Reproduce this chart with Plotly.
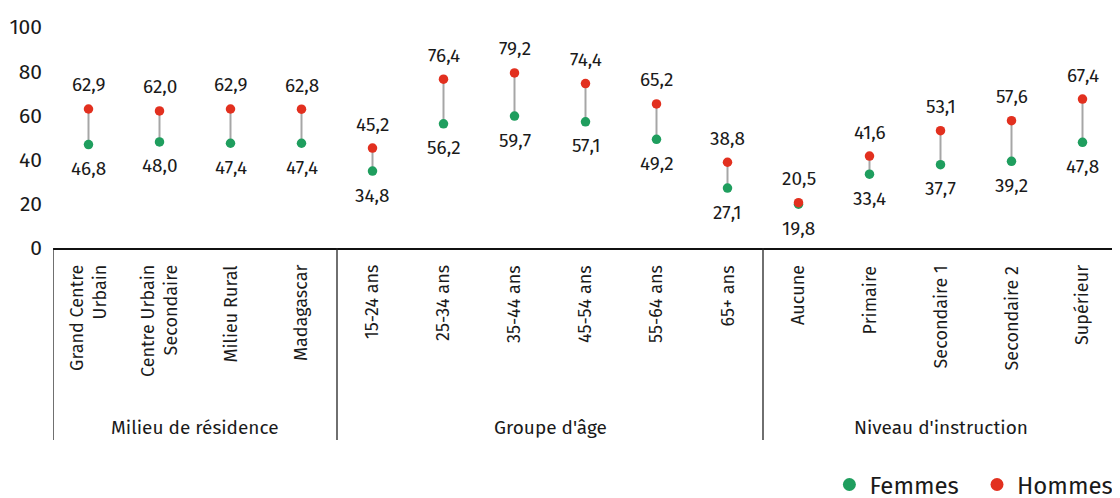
import plotly.graph_objects as go

categories = ["Grand Centre<br>Urbain", "Centre Urbain<br>Secondaire", "Milieu Rural", "Madagascar",
              "15-24 ans", "25-34 ans", "35-44 ans", "45-54 ans", "55-64 ans", "65+ ans",
              "Aucune", "Primaire", "Secondaire 1", "Secondaire 2", "Supérieur"]
femmes = [46.8, 48.0, 47.4, 47.4, 34.8, 56.2, 59.7, 57.1, 49.2, 27.1, 19.8, 33.4, 37.7, 39.2, 47.8]
hommes = [62.9, 62.0, 62.9, 62.8, 45.2, 76.4, 79.2, 74.4, 65.2, 38.8, 20.5, 41.6, 53.1, 57.6, 67.4]
groups = ["Milieu de résidence", "Groupe d'âge", "Niveau d'instruction"]
group_sizes = [4, 6, 5]
y_ticks = [0, 20, 40, 60, 80, 100]

GREEN = "#1f9e5e"
RED = "#e2301f"
FONT = "Fira Sans, Noto Sans, sans-serif"
TXT = "#1a1a1a"

xs = [i + 0.5 for i in range(len(categories))]

fig = go.Figure()

# connectors
cx, cy = [], []
for x, f, h in zip(xs, femmes, hommes):
    cx += [x, x, None]
    cy += [f, h, None]
fig.add_trace(go.Scatter(x=cx, y=cy, mode="lines", line=dict(color="#a6a6a6", width=2),
                         showlegend=False, hoverinfo="skip"))

fig.add_trace(go.Scatter(x=xs, y=femmes, mode="markers", name="Femmes", showlegend=False,
                         marker=dict(color=GREEN, size=9.5)))
fig.add_trace(go.Scatter(x=xs, y=hommes, mode="markers", name="Hommes", showlegend=False,
                         marker=dict(color=RED, size=9.5)))
# legend entries
fig.add_trace(go.Scatter(x=[None], y=[None], mode="markers", name="Femmes",
                         marker=dict(color=GREEN, size=13), legend="legend"))
fig.add_trace(go.Scatter(x=[None], y=[None], mode="markers", name="Hommes",
                         marker=dict(color=RED, size=13), legend="legend2"))

fmt = lambda v: f"{v:.1f}".replace(".", ",")
for x, f, h in zip(xs, femmes, hommes):
    fig.add_annotation(x=x, y=h, text=fmt(h), showarrow=False, yshift=24,
                       font=dict(size=19, color=TXT, family=FONT))
    fig.add_annotation(x=x, y=f, text=fmt(f), showarrow=False, yshift=-24,
                       font=dict(size=19, color=TXT, family=FONT))

# category labels (rotated)
for x, c in zip(xs, categories):
    fig.add_annotation(x=x, y=-0.07, xref="x", yref="paper", text=c, textangle=-90,
                       showarrow=False, yanchor="top", xanchor="center", align="right",
                       font=dict(size=18, color=TXT, family=FONT))

# group separators and labels
bottom = -0.869
start = 0
bounds = [0]
for g, n in zip(groups, group_sizes):
    fig.add_annotation(x=start + n / 2, y=-0.814, xref="x", yref="paper", text=g,
                       showarrow=False, yanchor="middle",
                       font=dict(size=19, color=TXT, family=FONT))
    start += n
    bounds.append(start)
for i, b in enumerate(bounds):
    fig.add_shape(type="line", xref="x", yref="paper", x0=b, x1=b, y0=0, y1=bottom,
                  line=dict(color="#888888" if i == len(bounds) - 1 else "#222222", width=1.3))

fig.update_xaxes(range=[0, len(categories)], showticklabels=False, showgrid=False,
                 zeroline=False, showline=True, linecolor="#111111", linewidth=1.5, ticks="",
                 automargin=False)
fig.update_yaxes(range=[0, 100], tickvals=y_ticks, showgrid=False, zeroline=False,
                 showline=False, tickfont=dict(size=21, color=TXT, family=FONT),
                 ticklabelstandoff=10, automargin=False)

fig.update_layout(
    width=1120, height=498,
    margin=dict(l=45, r=10, t=19, b=258, autoexpand=False),
    plot_bgcolor="white", paper_bgcolor="white",
    font=dict(family=FONT, color=TXT),
    showlegend=True,
    legend=dict(orientation="h", x=0.729, xanchor="left", y=-1.072, yanchor="middle",
                font=dict(size=24, family=FONT), itemwidth=30),
    legend2=dict(orientation="h", x=1.0, xanchor="right", y=-1.072, yanchor="middle",
                 font=dict(size=24, family=FONT), itemwidth=30),
)

fig.write_html("out.html")
